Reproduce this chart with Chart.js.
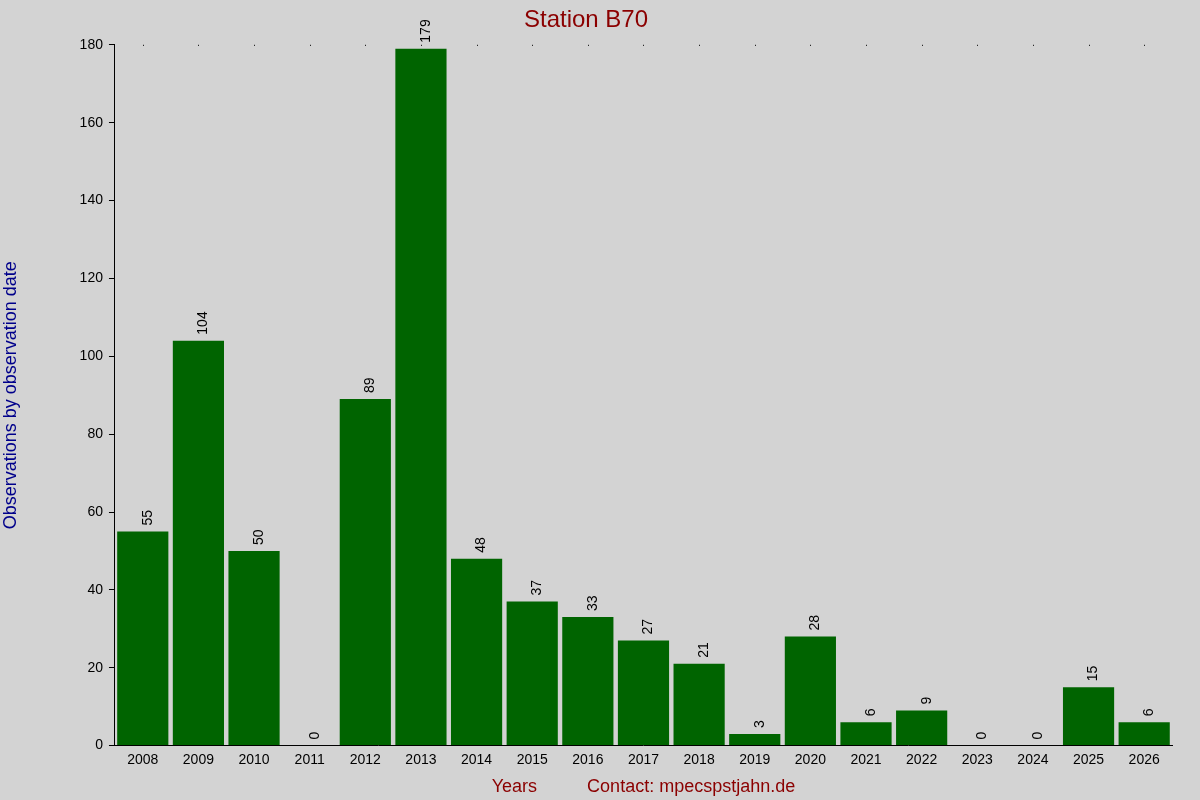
<!DOCTYPE html>
<html>
<head>
<meta charset="utf-8">
<script src="https://cdn.jsdelivr.net/npm/chart.js@4/dist/chart.umd.min.js"></script>
<style>
  html, body { margin: 0; padding: 0; background: #d3d3d3; }
  #wrap { width: 1200px; height: 800px; }
</style>
</head>
<body>
<div id="wrap"><canvas id="chart"></canvas></div>
<script>
const years = ['2008','2009','2010','2011','2012','2013','2014','2015','2016','2017','2018','2019','2020','2021','2022','2023','2024','2025','2026'];
const observations = [55, 104, 50, 0, 89, 179, 48, 37, 33, 27, 21, 3, 28, 6, 9, 0, 0, 15, 6];
const yTicks = [0, 20, 40, 60, 80, 100, 120, 140, 160, 180];

// rotated value labels above each bar + small dots along the top edge
const barLabels = {
    id: 'barLabels',
    afterDatasetsDraw(chart) {
        const ctx = chart.ctx;
        const meta = chart.getDatasetMeta(0);
        const top = chart.scales.y.getPixelForValue(180);
        ctx.save();
        ctx.fillStyle = '#000';
        ctx.font = '14px "Liberation Sans", Arial, sans-serif';
        meta.data.forEach((bar, i) => {
            ctx.save();
            ctx.translate(bar.x + 5, bar.y - 6);
            ctx.rotate(-Math.PI / 2);
            ctx.textAlign = 'left';
            ctx.textBaseline = 'middle';
            ctx.fillText(String(observations[i]), 0, 0);
            ctx.restore();
            ctx.fillRect(Math.round(bar.x), top, 1, 1);
        });
        ctx.restore();
    }
};

new Chart(document.getElementById('chart'), {
    type: 'bar',
    data: {
        labels: years,
        datasets: [{
            data: observations,
            backgroundColor: '#006400',
            barPercentage: 0.92,
            categoryPercentage: 1.0
        }]
    },
    options: {
        responsive: true,
        maintainAspectRatio: false,
        animation: false,
        layout: { padding: { top: 4, right: 28, left: 0, bottom: 0 } },
        plugins: {
            legend: { display: false },
            tooltip: { enabled: false },
            title: {
                display: true,
                text: 'Station B70',
                color: '#8b0000',
                font: { size: 24, family: '"Liberation Sans", Arial, sans-serif', weight: 'normal' },
                padding: { top: 2, bottom: 10 }
            }
        },
        scales: {
            x: {
                grid: { display: false, drawTicks: false },
                border: { display: true, color: '#000' },
                ticks: { color: '#000', font: { size: 14, family: '"Liberation Sans", Arial, sans-serif' }, padding: 6, maxRotation: 0 },
                title: {
                    display: true,
                    text: 'Years          Contact: mpecspstjahn.de',
                    color: '#8b0000',
                    font: { size: 18, family: '"Liberation Sans", Arial, sans-serif' },
                    padding: { top: 2, bottom: 2 }
                }
            },
            y: {
                min: 0,
                max: 180,
                afterBuildTicks(scale) { scale.ticks = yTicks.map(v => ({ value: v })); },
                grid: { display: true, drawOnChartArea: false, drawTicks: true, tickLength: 6, color: '#000' },
                border: { display: true, color: '#000' },
                ticks: { color: '#000', font: { size: 14, family: '"Liberation Sans", Arial, sans-serif' }, padding: 6 },
                title: {
                    display: true,
                    text: 'Observations by observation date',
                    color: '#00008b',
                    font: { size: 18, family: '"Liberation Sans", Arial, sans-serif' },
                    padding: { top: 0, bottom: 52 }
                }
            }
        }
    },
    plugins: [barLabels]
});
</script>
</body>
</html>
